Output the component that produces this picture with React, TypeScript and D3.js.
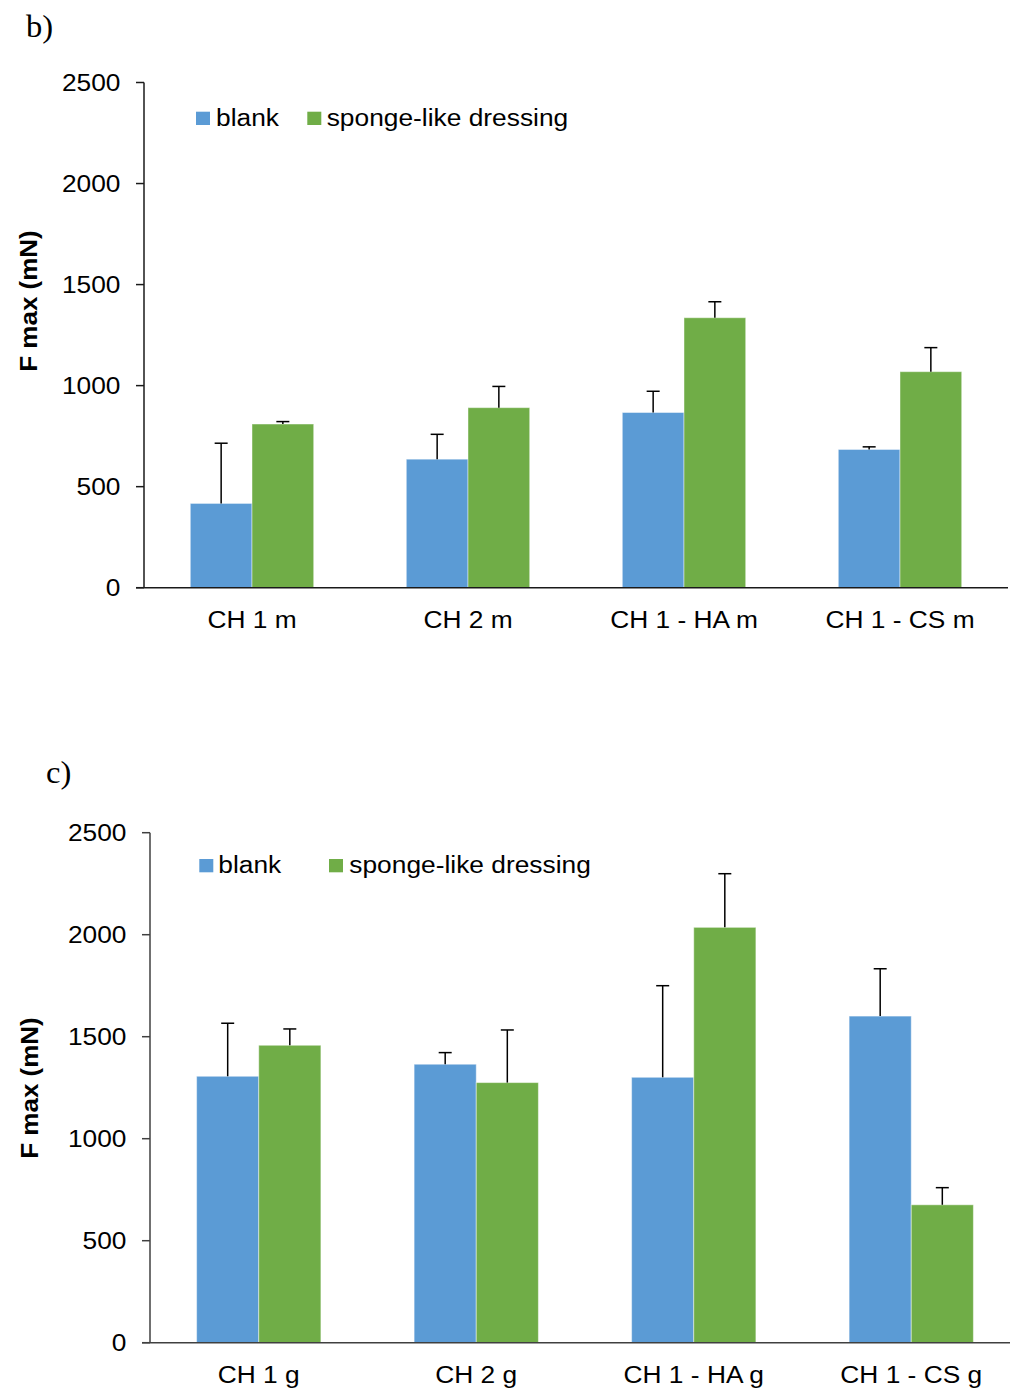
import React from "react";
import * as d3 from "d3";

// Panel b: membranes (m)
const categoriesB = ["CH 1 m", "CH 2 m", "CH 1 - HA m", "CH 1 - CS m"];
const blankB = [417, 636, 867, 684];
const blankErrB = [298, 123, 105, 13];
const spongeB = [810, 891, 1336, 1069];
const spongeErrB = [12, 105, 79, 119];

// Panel c: gels (g)
const categoriesC = ["CH 1 g", "CH 2 g", "CH 1 - HA g", "CH 1 - CS g"];
const blankC = [1306, 1365, 1301, 1601];
const blankErrC = [260, 57, 449, 232];
const spongeC = [1458, 1275, 2036, 676];
const spongeErrC = [80, 258, 263, 84];

const yTicks = [0, 500, 1000, 1500, 2000, 2500];
const seriesNames = ["blank", "sponge-like dressing"];
const seriesColors = ["#5B9BD5", "#70AD47"];

const FONT = "'Liberation Sans', Arial, Helvetica, sans-serif";
const SX = 1.13;
const FS = 23.3;

type PanelProps = {
  label: string;
  labelX: number;
  labelY: number;
  categories: string[];
  blank: number[];
  blankErr: number[];
  sponge: number[];
  spongeErr: number[];
  x0: number;
  x1: number;
  yTop: number;
  yBase: number;
  axisColor: string;
  legendSwatchX: number[];
  legendTextX: number[];
  legendY: number;
  xLabelBaseline: number;
  titleX: number;
  titleY: number;
};

function Label({ x, y, anchor, children, size = FS, weight = "normal", family = FONT, sx = SX }: any) {
  return (
    <text
      transform={`translate(${x},${y}) scale(${sx},1)`}
      textAnchor={anchor}
      fontSize={size}
      fontWeight={weight}
      fontFamily={family}
      fill="#000"
    >
      {children}
    </text>
  );
}

function Panel(p: PanelProps) {
  const x = d3
    .scaleBand<string>()
    .domain(p.categories)
    .range([p.x0, p.x1])
    .paddingInner(0.4287)
    .paddingOuter(0.4287 / 2);
  const inner = d3.scaleBand<string>().domain(seriesNames).range([0, x.bandwidth()]).padding(0);
  const y = d3.scaleLinear().domain([0, 2500]).range([p.yBase, p.yTop]);

  const series = [
    { name: seriesNames[0], values: p.blank, errs: p.blankErr, color: seriesColors[0] },
    { name: seriesNames[1], values: p.sponge, errs: p.spongeErr, color: seriesColors[1] },
  ];
  const cap = 6.5;

  return (
    <g>
      <Label x={p.labelX} y={p.labelY} anchor="start" size={31} family="'Liberation Serif', 'Times New Roman', serif" sx={1.05}>
        {p.label}
      </Label>

      {/* bars */}
      {series.map((s) =>
        p.categories.map((c, i) => (
          <rect
            key={s.name + c}
            x={(x(c) as number) + (inner(s.name) as number)}
            y={y(s.values[i])}
            width={inner.bandwidth()}
            height={y(0) - y(s.values[i])}
            fill={s.color}
            stroke="rgba(255,255,255,0.45)"
            strokeWidth={1}
          />
        ))
      )}

      {/* error bars (upper) */}
      {series.map((s) =>
        p.categories.map((c, i) => {
          const cx = (x(c) as number) + (inner(s.name) as number) + inner.bandwidth() / 2;
          const yv = y(s.values[i]);
          const ye = y(s.values[i] + s.errs[i]);
          return (
            <g key={"e" + s.name + c} stroke="#000" strokeWidth={1.5}>
              <line x1={cx} x2={cx} y1={yv} y2={ye} />
              <line x1={cx - cap} x2={cx + cap} y1={ye} y2={ye} />
            </g>
          );
        })
      )}

      {/* axes */}
      <line x1={p.x0} x2={p.x0} y1={y(2500)} y2={y(0)} stroke={p.axisColor} strokeWidth={1.5} />
      <line x1={p.x0 - 8} x2={p.x1} y1={y(0)} y2={y(0)} stroke={p.axisColor} strokeWidth={1.5} />
      {yTicks.map((t) => (
        <g key={t}>
          <line x1={p.x0 - 8} x2={p.x0} y1={y(t)} y2={y(t)} stroke={p.axisColor} strokeWidth={1.5} />
          <Label x={p.x0 - 23.5} y={y(t) + 8.4} anchor="end">
            {t}
          </Label>
        </g>
      ))}
      {p.categories.map((c) => (
        <Label key={c} x={(x(c) as number) + x.bandwidth() / 2} y={p.xLabelBaseline} anchor="middle">
          {c}
        </Label>
      ))}

      {/* y-axis title */}
      <text
        transform={`translate(${p.titleX},${p.titleY}) scale(0.9,1) rotate(-90)`}
        textAnchor="middle"
        fontSize={26}
        fontWeight="bold"
        fontFamily={FONT}
        fill="#000"
      >
        F max (mN)
      </text>

      {/* legend */}
      {series.map((s, i) => (
        <g key={"l" + s.name}>
          <rect x={p.legendSwatchX[i]} y={p.legendY} width={14} height={13.3} fill={s.color} />
          <Label x={p.legendTextX[i]} y={p.legendY + 14} anchor="start">
            {s.name}
          </Label>
        </g>
      ))}
    </g>
  );
}

export default function App() {
  return (
    <svg
      width={1010}
      height={1391}
      style={{ position: "absolute", left: 0, top: 0, background: "#fff" }}
    >
      <rect width={1010} height={1391} fill="#fff" />
      <Panel
        label="b)"
        labelX={26}
        labelY={36.5}
        categories={categoriesB}
        blank={blankB}
        blankErr={blankErrB}
        sponge={spongeB}
        spongeErr={spongeErrB}
        x0={144}
        x1={1008}
        yTop={82.5}
        yBase={587.7}
        axisColor="#1a1a1a"
        legendSwatchX={[196, 307.3]}
        legendTextX={[216, 326.7]}
        legendY={111.7}
        xLabelBaseline={628.3}
        titleX={37}
        titleY={301}
      />
      <Panel
        label="c)"
        labelX={46}
        labelY={783.3}
        categories={categoriesC}
        blank={blankC}
        blankErr={blankErrC}
        sponge={spongeC}
        spongeErr={spongeErrC}
        x0={150}
        x1={1020}
        yTop={832.7}
        yBase={1342.7}
        axisColor="#404040"
        legendSwatchX={[199.3, 329]}
        legendTextX={[218.3, 349.3]}
        legendY={859}
        xLabelBaseline={1383}
        titleX={38}
        titleY={1088}
      />
    </svg>
  );
}
